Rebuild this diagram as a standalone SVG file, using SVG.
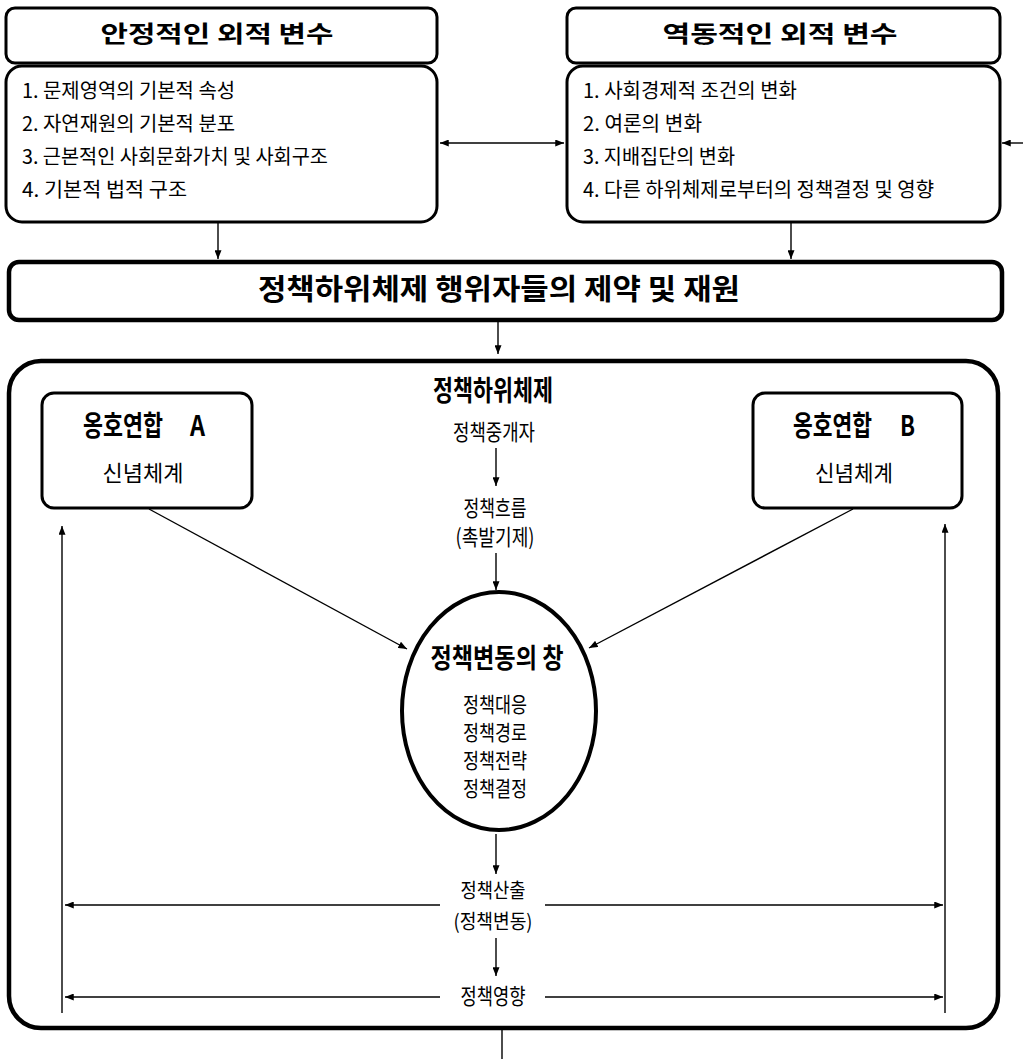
<svg xmlns="http://www.w3.org/2000/svg" width="1023" height="1059" viewBox="0 0 1023 1059">
<style>
.box{fill:#fff;stroke:#000;stroke-width:3}
.thick{fill:none;stroke:#000;stroke-width:4.5}
.ln{fill:none;stroke:#000;stroke-width:1.4}
text{font-family:"Noto Sans CJK KR","Noto Sans",sans-serif;fill:#000}
.t{font-size:23px;font-weight:bold}
.i{font-size:20px}
.b{font-size:28px;font-weight:bold}
.s{font-size:22px}
.o{font-size:20px}
.m{text-anchor:middle}
</style>
<defs>
<marker id="ah" viewBox="0 0 10 8" refX="10" refY="4" markerWidth="9" markerHeight="7" markerUnits="userSpaceOnUse" orient="auto-start-reverse">
<path d="M0,0 L10,4 L0,8 z" fill="#000"/>
</marker>
</defs>
<rect width="1023" height="1059" fill="#fff"/>

<g id="connectors">
<line class="ln" x1="440" y1="143" x2="564" y2="143" marker-start="url(#ah)" marker-end="url(#ah)"/>
<line class="ln" x1="1023" y1="143" x2="1002" y2="143" marker-end="url(#ah)"/>
<line class="ln" x1="218" y1="222" x2="218" y2="259" marker-end="url(#ah)"/>
<line class="ln" x1="791" y1="222" x2="791" y2="259" marker-end="url(#ah)"/>
<line class="ln" x1="498" y1="322" x2="498" y2="354" marker-end="url(#ah)"/>
<line class="ln" x1="496" y1="448" x2="496" y2="486" marker-end="url(#ah)"/>
<line class="ln" x1="496" y1="553" x2="496" y2="590" marker-end="url(#ah)"/>
<line class="ln" x1="149" y1="509" x2="407" y2="649" marker-end="url(#ah)"/>
<line class="ln" x1="853" y1="509" x2="589" y2="648" marker-end="url(#ah)"/>
<line class="ln" x1="496" y1="834" x2="496" y2="874" marker-end="url(#ah)"/>
<line class="ln" x1="496" y1="938" x2="496" y2="976" marker-end="url(#ah)"/>
<line class="ln" x1="65" y1="905" x2="440" y2="905" marker-start="url(#ah)"/>
<line class="ln" x1="545" y1="905" x2="943" y2="905" marker-end="url(#ah)"/>
<line class="ln" x1="65" y1="997" x2="440" y2="997" marker-start="url(#ah)"/>
<line class="ln" x1="545" y1="997" x2="943" y2="997" marker-end="url(#ah)"/>
<line class="ln" x1="62" y1="1013" x2="62" y2="526" marker-end="url(#ah)"/>
<line class="ln" x1="945" y1="1013" x2="945" y2="524" marker-end="url(#ah)"/>
<line class="ln" x1="502" y1="1029" x2="502" y2="1059"/>
</g>

<g id="stable-header">
<rect class="box" x="6" y="8" width="431" height="55" rx="9"/>
<text class="t m" x="217" y="42" textLength="233" lengthAdjust="spacingAndGlyphs">안정적인 외적 변수</text>
</g>
<g id="stable-body">
<rect class="box" x="6" y="66" width="431" height="156" rx="16"/>
<text class="i" x="22" y="98" textLength="213" lengthAdjust="spacingAndGlyphs">1. 문제영역의 기본적 속성</text>
<text class="i" x="22" y="131" textLength="213" lengthAdjust="spacingAndGlyphs">2. 자연재원의 기본적 분포</text>
<text class="i" x="22" y="164" textLength="306" lengthAdjust="spacingAndGlyphs">3. 근본적인 사회문화가치 및 사회구조</text>
<text class="i" x="22" y="197" textLength="165" lengthAdjust="spacingAndGlyphs">4. 기본적 법적 구조</text>
</g>

<g id="dynamic-header">
<rect class="box" x="567" y="8" width="433" height="55" rx="9"/>
<text class="t m" x="780" y="42" textLength="235" lengthAdjust="spacingAndGlyphs">역동적인 외적 변수</text>
</g>
<g id="dynamic-body">
<rect class="box" x="567" y="66" width="433" height="156" rx="16"/>
<text class="i" x="583" y="98" textLength="214" lengthAdjust="spacingAndGlyphs">1. 사회경제적 조건의 변화</text>
<text class="i" x="583" y="131" textLength="119" lengthAdjust="spacingAndGlyphs">2. 여론의 변화</text>
<text class="i" x="583" y="164" textLength="152" lengthAdjust="spacingAndGlyphs">3. 지배집단의 변화</text>
<text class="i" x="583" y="197" textLength="351" lengthAdjust="spacingAndGlyphs">4. 다른 하위체제로부터의 정책결정 및 영향</text>
</g>

<g id="constraints">
<rect class="box" x="9" y="262" width="993" height="58" rx="10" style="stroke-width:4.5"/>
<text class="m" x="499" y="300" style="font-size:29px;font-weight:bold" textLength="482" lengthAdjust="spacingAndGlyphs">정책하위체제 행위자들의 제약 및 재원</text>
</g>

<g id="subsystem">
<rect class="thick" x="9" y="361" width="989" height="667" rx="32"/>
<text class="b m" x="493" y="401" textLength="120" lengthAdjust="spacingAndGlyphs">정책하위체제</text>
<text class="s m" x="494" y="440" textLength="82" lengthAdjust="spacingAndGlyphs">정책중개자</text>
<text class="s m" x="495" y="516" textLength="63" lengthAdjust="spacingAndGlyphs">정책흐름</text>
<text class="s m" x="495" y="545" textLength="79" lengthAdjust="spacingAndGlyphs">(촉발기제)</text>
</g>

<g id="coalition-a">
<rect class="box" x="42" y="393" width="210" height="115" rx="12"/>
<text class="b" x="83" y="436" textLength="80" lengthAdjust="spacingAndGlyphs">옹호연합</text>
<text class="b" x="190" y="436" textLength="15" lengthAdjust="spacingAndGlyphs">A</text>
<text class="s m" x="143" y="481" textLength="81" lengthAdjust="spacingAndGlyphs">신념체계</text>
</g>

<g id="coalition-b">
<rect class="box" x="753" y="393" width="209" height="115" rx="12"/>
<text class="b" x="793" y="436" textLength="79" lengthAdjust="spacingAndGlyphs">옹호연합</text>
<text class="b" x="900" y="436" textLength="15" lengthAdjust="spacingAndGlyphs">B</text>
<text class="s m" x="854" y="481" textLength="78" lengthAdjust="spacingAndGlyphs">신념체계</text>
</g>

<g id="window">
<ellipse cx="499" cy="711" rx="97" ry="119" fill="#fff" stroke="#000" stroke-width="4"/>
<text class="m" x="497" y="668" style="font-size:27px;font-weight:bold" textLength="133" lengthAdjust="spacingAndGlyphs">정책변동의 창</text>
<text class="m" x="495" y="712" style="font-size:21px" textLength="64" lengthAdjust="spacingAndGlyphs">정책대응</text>
<text class="m" x="495" y="740" style="font-size:21px" textLength="64" lengthAdjust="spacingAndGlyphs">정책경로</text>
<text class="m" x="495" y="768" style="font-size:21px" textLength="64" lengthAdjust="spacingAndGlyphs">정책전략</text>
<text class="m" x="495" y="796" style="font-size:21px" textLength="64" lengthAdjust="spacingAndGlyphs">정책결정</text>
</g>

<g id="output">
<text class="o m" x="493" y="898" textLength="65" lengthAdjust="spacingAndGlyphs">정책산출</text>
<text class="o m" x="493" y="929" textLength="79" lengthAdjust="spacingAndGlyphs">(정책변동)</text>
</g>

<g id="impact">
<text class="s m" x="493" y="1004" textLength="65" lengthAdjust="spacingAndGlyphs">정책영향</text>
</g>
</svg>
